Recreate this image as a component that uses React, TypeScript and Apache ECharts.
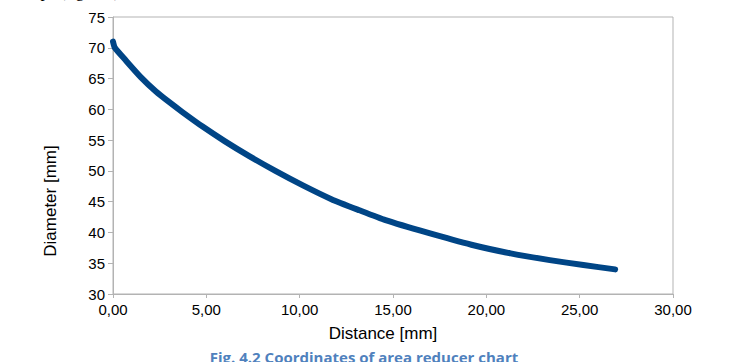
import React, { useEffect, useRef } from "react";
import * as echarts from "echarts";

const distance = [0, 0.1, 0.7, 1.5, 2.3, 3.0, 3.7, 4.8, 6.0, 7.3, 8.7, 10.2, 11.7, 13.2, 14.6, 16.8, 19.2, 21.3, 23.4, 25.2, 26.9];
const diameter = [71.0, 70.0, 67.9, 65.2, 62.9, 61.2, 59.6, 57.2, 54.8, 52.4, 50.0, 47.6, 45.4, 43.6, 42.0, 40.0, 38.0, 36.6, 35.5, 34.7, 34.0];
const xTicks = { min: 0, max: 30, interval: 5 };
const yTicks = { min: 30, max: 75, interval: 5 };

export default function App() {
  const ref = useRef<HTMLDivElement>(null);
  useEffect(() => {
    if (!ref.current) return;
    const chart = echarts.init(ref.current, null, { renderer: "svg" });
    const font = "'Liberation Sans', Arial, sans-serif";
    chart.setOption({
      animation: false,
      grid: { left: 113, right: 56, top: 17, bottom: 68, show: true, borderColor: "#b3b3b3", borderWidth: 1 },
      xAxis: {
        type: "value",
        min: xTicks.min,
        max: xTicks.max,
        interval: xTicks.interval,
        axisLine: { lineStyle: { color: "#b3b3b3" } },
        axisTick: { show: true, length: 4, lineStyle: { color: "#b3b3b3" } },
        splitLine: { show: false },
        axisLabel: {
          color: "#000",
          fontFamily: font,
          fontSize: 15,
          margin: 8,
          formatter: (v: number) => v.toFixed(2).replace(".", ","),
        },
      },
      yAxis: {
        type: "value",
        min: yTicks.min,
        max: yTicks.max,
        interval: yTicks.interval,
        axisLine: { show: true, lineStyle: { color: "#b3b3b3" } },
        axisTick: { show: true, length: 5, lineStyle: { color: "#b3b3b3" } },
        splitLine: { show: false },
        axisLabel: { color: "#000", fontFamily: font, fontSize: 15, margin: 8 },
      },
      series: [
        {
          type: "line",
          data: distance.map((d, i) => [d, diameter[i]]),
          showSymbol: false,
          smooth: 0.2,
          lineStyle: { color: "#004586", width: 6, cap: "round", join: "round" },
        },
      ],
      graphic: [
        {
          type: "text",
          x: 383,
          y: 333,
          style: { text: "Distance [mm]", font: `17px ${font}`, fill: "#000", align: "center", verticalAlign: "middle" },
        },
        {
          type: "text",
          x: 50,
          y: 201,
          rotation: Math.PI / 2,
          style: { text: "Diameter [mm]", font: `17px ${font}`, fill: "#000", align: "center", verticalAlign: "middle" },
        },
        {
          type: "text",
          x: 364,
          y: 349,
          style: { text: "Fig. 4.2 Coordinates of area reducer chart", font: `bold 15px 'Open Sans', sans-serif`, fill: "#4f81bd", align: "center", verticalAlign: "top" },
        },
        {
          type: "text",
          x: 124,
          y: 0,
          style: { text: "ups (fig. 4.2).", font: `17px 'Liberation Serif', serif`, fill: "#000", align: "right", verticalAlign: "bottom" },
        },
      ],
    });
    return () => chart.dispose();
  }, []);
  return <div ref={ref} style={{ position: "absolute", left: 0, top: 0, width: 729, height: 362 }} />;
}
